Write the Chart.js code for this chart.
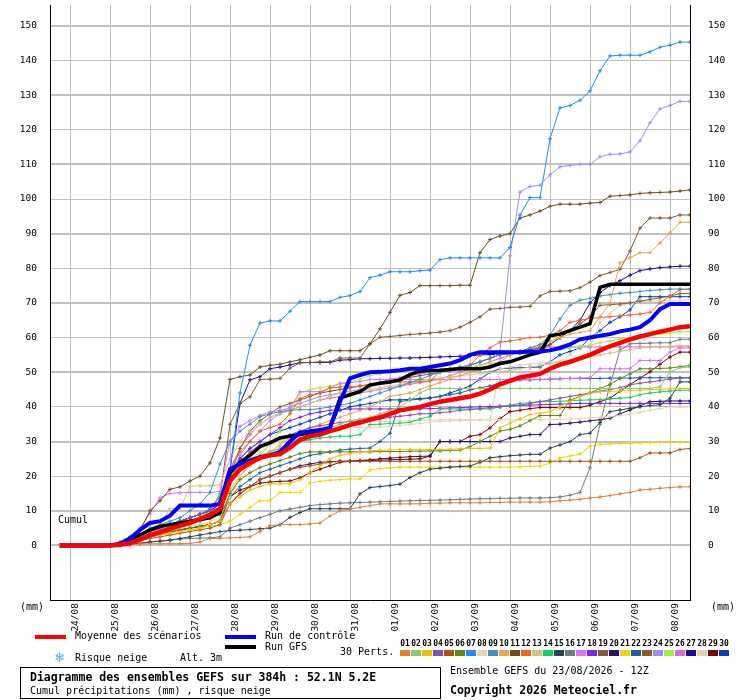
<!DOCTYPE html>
<html lang="fr">
<head>
<meta charset="UTF-8">
<title>Diagramme des ensembles GEFS</title>
<script src="https://cdn.jsdelivr.net/npm/chart.js@4.4.1/dist/chart.umd.min.js"></script>
<style>
  body { margin: 0; background: #fff; }
  .wrap { position: relative; width: 740px; height: 700px; overflow: hidden; font-family: 'DejaVu Sans Mono', monospace; }
  #gefs { position: absolute; left: 0; top: 0; }
  .t { position: absolute; font-size: 10px; line-height: 10px; color: #000; white-space: pre; }
  .b { font-weight: bold; font-size: 11.5px; line-height: 12px; }
  .sw { position: absolute; }
  .snow { color: #4fa8e0; font-family: 'DejaVu Sans', sans-serif; font-size: 13px; line-height: 13px; }
  .box { position: absolute; left: 20px; top: 667px; width: 421px; height: 32px; border: 1px solid #000; box-sizing: border-box; }
  .pn { position: absolute; top: 640px; width: 11px; text-align: center; font-size: 8px; line-height: 8px; font-weight: bold; }
  .pc { position: absolute; top: 650px; width: 10px; height: 6px; }
</style>
</head>
<body>
<div class="wrap">
  <canvas id="gefs" width="740" height="700"></canvas>

  <div class="t" style="left:20px;top:602px">(mm)</div>
  <div class="t" style="left:711px;top:602px">(mm)</div>
  <div class="t" style="left:58px;top:515px">Cumul</div>

  <div class="sw" style="left:35px;top:635px;width:31px;height:4px;background:#ff0000"></div>
  <div class="t" style="left:75px;top:631px">Moyenne des scénarios</div>
  <div class="sw" style="left:225px;top:635px;width:31px;height:4px;background:#0000ff"></div>
  <div class="t" style="left:265px;top:631px">Run de contrôle</div>
  <div class="sw" style="left:225px;top:645px;width:31px;height:4px;background:#000"></div>
  <div class="t" style="left:265px;top:642px">Run GFS</div>
  <div class="t snow" style="left:54px;top:651px">❄</div>
  <div class="t" style="left:75px;top:653px">Risque neige</div>
  <div class="t" style="left:180px;top:653px">Alt. 3m</div>
  <div class="t" style="left:340px;top:647px">30 Perts.</div>
  <div id="perts"></div>

  <div class="box"></div>
  <div class="t b" style="left:30px;top:671px">Diagramme des ensembles GEFS sur 384h : 52.1N 5.2E</div>
  <div class="t" style="left:30px;top:686px">Cumul précipitations (mm) , risque neige</div>
  <div class="t" style="left:450px;top:666px">Ensemble GEFS du 23/08/2026 - 12Z</div>
  <div class="t b" style="left:450px;top:684px">Copyright 2026 Meteociel.fr</div>
</div>

<script>
// echeances (heures depuis le 23/08 12Z), pas de cumul a l'echeance 0
const hours = [0,6,12,18,24,30,36,42,48,54,60,66,72,78,84,90,96,102,108,114,120,126,132,138,144,150,156,162,168,174,180,186,192,198,204,210,216,222,228,234,240,246,252,258,264,270,276,282,288,294,300,306,312,318,324,330,336,342,348,354,360,366,372,378,384];
const dayHours = [12,36,60,84,108,132,156,180,204,228,252,276,300,324,348,372];
const dayLabels = ['24/08','25/08','26/08','27/08','28/08','29/08','30/08','31/08','01/09','02/09','03/09','04/09','05/09','06/09','07/09','08/09'];
const yTicks = [0,10,20,30,40,50,60,70,80,90,100,110,120,130,140,150];

const pertColors = ['#e87d32','#8dc66f','#f0c000','#8a50a8','#b4500f','#5a8a0f','#1e8cff','#e8d6b0','#3f8fbf','#e8a552',
                    '#6a5020','#f26522','#d4c27e','#14d262','#27445a','#6d7b85','#e070f4','#8020f2','#7f5c30','#2e0a6a',
                    '#f2d500','#1f5f9f','#8c5a24','#a08cf0','#a2f03e','#d070d8','#1e0a9c','#e0d2b2','#800000','#0040c4'];

const mean = [null,0,0,0,0,0,
  0,0.2,0.6,1.7, 2.9,3.8,4.8,5.7, 6.5,7.7,8.8,10.5, 18.6,22,23.8,25.3,
  26,26.4,28.2,30.5, 31.5,32,33,33.8, 34.8,35.5,36.3,37, 38,39,39.5,40,
  40.8,41.5,42,42.5, 43,43.8,45,46.5, 47.5,48.5,49,49.5, 51,52.2,53,54,
  55,56.3,57.5,58.5, 59.5,60.3,61,61.7, 62.3,63,63.3];
const control = [null,0,0,0,0,0,
  0,0.5,2,4.5, 6.5,7,8.6,11.5, 11.5,11.5,11.5,12, 22,23.5,24.5,25.5,
  26,27,30,32.5, 33,33.3,34,41.5, 48.2,49.2,50,50.1, 50.3,50.6,51,51,
  51.5,52,52.5,53.5, 55,55.8,55.8,55.8, 55.8,55.8,56,56, 56.3,57,58,59.5,
  60,60.5,61,61.8, 62.3,63,65,68.2, 69.7,69.7,69.7];
const gfs = [null,0,0,0,0,0,
  0,0.3,1.5,3, 4.5,5.5,6,6.5, 7,7.5,8,9.5, 21,24,26,28.5,
  29.6,31,31.5,32, 32.5,33,34,42.5, 43.5,44.4,46.3,46.8, 47.2,47.8,49.3,50.3,
  50.5,50.6,50.8,51, 51,51,51.5,52.5, 53,54,55,55.8, 60.5,61,62,63,
  64,74.5,75.4,75.4, 75.4,75.4,75.4,75.4, 75.4,75.4,75.4];

const p01 = [null,0,0,0,0,0, 0,0,0.2,0.4, 0.5,0.5,0.5,0.5, 0.6,1,2,2, 2.2,2.3,2.5,4, 5.7,6,6,6, 6.2,6.5,8.5,10,
  10.5,11,11.5,12, 12,12,12,12, 12.2,12.2,12.3,12.3, 12.3,12.3,12.4,12.4, 12.5,12.5,12.5,12.5, 12.6,12.9,13.1,13.3,
  13.7,14,14.4,14.9, 15.3,16,16.2,16.5, 16.7,16.9,16.9];
const p02 = [null,0,0,0,0,0, 0,0.3,1,2, 3,4,5,5.5, 6,7,8,10, 20,23,25,26, 27,28,29.5,31, 32,33,34,35,
  36,36.5,37,38, 39,40,42,44, 45.3,45.3,45.3,45.3, 45.3,45.3,45.3,45.3, 45.3,45.3,45.3,45.3, 45.3,45.3,45.3,45.3,
  45.3,45.3,45.3,45.3, 45.3,45.3,45.3,45.8, 50.1,51.3,51.5];
const p03 = [null,0,0,0,0,0, 0,0,0.5,1.5, 2.5,3,3.5,4, 4.5,5,6,7, 12,14,16,17, 17.8,17.8,17.8,19, 21,23,25,26,
  26.5,27,27.3,27.5, 27.5,27.7,27.7,27.7, 27.7,27.7,27.8,27.9, 28,28,28.1,33.9, 35.3,36.5,37.8,38.2, 38.6,40,41.5,43,
  43.9,44.4,44.5,44.6, 44.7,44.8,45,45.1, 45.2,45.3,45.3];
const p04 = [null,0,0,0,0,0, 0,0.5,1.5,3, 4,5,6,7, 8,9,10,11, 20,24,27,29, 30,31,32,33, 34,34.5,35,35.5,
  35.8,36,36.2,36.5, 37,37.3,37.6,38, 38,38.3,38.6,39, 39.2,39.5,39.8,40, 40.2,40.5,41,41.5, 42,42.5,43,43.5,
  44,44.5,45,45.5, 46.4,46.8,47.2,47.6, 48,48.3,48.4];
const p05 = [null,0,0,0,0,0, 0,0.2,0.8,1.5, 2,2.5,3,3.5, 4,4.5,5,6, 12,15,17,19, 20,21,22,22.5, 23,23.5,24,24.3,
  24.3,24.3,24.3,24.3, 24.3,24.3,24.3,24.3, 24.3,24.3,24.3,24.3, 24.3,24.3,24.3,24.3, 24.3,24.3,24.3,24.3, 24.3,24.3,24.3,24.3,
  24.3,24.3,24.3,24.3, 24.3,25.3,26.7,26.7, 26.7,27.7,28];
const p06 = [null,0,0,0,0,0, 0,0.3,1,2, 3,3.5,4,4.5, 5,5.5,6,7, 15,19,21,22.5, 23.5,24.5,25.5,26.5, 27,27,27,27,
  27,27,27,27.1, 27.1,27.1,27.2,27.2, 27.3,27.3,27.4,27.5, 28.5,30,31.5,33, 33.5,34.5,36,37.5, 37.5,37.5,42,43,
  44,45.3,46.5,48.2, 49.5,51,51,51.1, 51.2,51.6,52];
const p07 = [null,0,0,0,0,0, 0,0.5,1.5,3, 4,5,6,7, 8,9,10.5,13, 22,44,57.8,64.2, 64.8,64.8,67.6,70.4, 70.4,70.4,70.4,71.6,
  72.1,73.3,77.3,78, 79,79,79,79.3, 79.5,82.5,83,83, 83,83,83,83, 86,95.4,100.4,100.4, 117.4,126.3,127,128.5,
  131.2,137,141.3,141.5, 141.5,141.5,142.5,143.8, 144.4,145.3,145.3];
const p08 = [null,0,0,0,0,0, 0,0.2,0.8,1.5, 2.5,3.5,4,5, 5.5,6,7,8, 14,20,24,27, 29,30,31,32, 32.5,33,33.5,34,
  34,34,34,34.2, 34.4,34.6,34.9,35.2, 35.5,35.8,35.9,36, 36.1,36.2,36.3,36.3, 36.3,36.3,36.3,36.3, 36.3,36.4,36.5,36.6,
  36.8,37,37.2,37.5, 38,38.5,39,39.5, 40,40,40];
const p09 = [null,0,0,0,0,0, 0,0.5,1.5,3, 5,6,7,8, 10,12,15.3,23.5, 30,33,35,37.2, 38,38.6,39,39.2, 39.2,39.5,40,40.5,
  41,42,43,44, 45,46,47,48, 49,50,51,51.5, 52,53,54,55, 55.5,56,57,58, 60.7,65.4,69.3,70.8,
  71.3,72,72.4,72.8, 73,73.3,73.6,73.8, 74,74,74];
const p10 = [null,0,0,0,0,0, 0,0.3,1,2, 3,4,5,6, 7,8,9,10, 16,20,23,25, 27,29,31,33, 34,35,36,37,
  38,39,40,41.5, 43,43.5,44,45, 46,47,48,49, 50,51,52,53, 55,56,57,58, 59,60,61,61.5,
  62,66,70,81.6, 83,84.5,84.5,87.3, 90.2,93.3,93.3];
const p11 = [null,0,0,0,0,0, 0,1,2.5,4.3, 10,12.9,16.2,16.9, 18.6,20,23.8,31, 47.9,48.7,49.2,51.5, 52,52.3,53,53.6, 54.3,55,56.2,56.2,
  56.2,56.2,58.2,62.5, 67.3,72.2,73,75, 75,75,75,75.1, 75.1,84.5,88.3,89.3, 90,94.5,95.4,96.5, 97.9,98.5,98.5,98.5,
  98.8,99,100.8,101, 101.2,101.6,101.8,101.9, 102,102.3,102.6];
const p12 = [null,0,0,0,0,0, 0,0.3,1,2, 3,4,5,6, 7,8,9,11, 22,27,30,33, 34,35,38,42.4, 43.5,44,45.5,45.7,
  45.8,46,46.5,47, 47.2,47.2,47.2,47.2, 47.5,50.1,50.5,51, 52,55,57,58.7, 59,59.5,60,60.1, 60.7,62,64.4,65,
  65.5,65.8,66,66.3, 66.5,66.8,67.3,70, 72,73.8,74];
const p13 = [null,0,0,0,0,0, 0,0.5,1.5,2.5, 3,6,10.6,10.6, 17,17.2,17.2,17.5, 25,30,33,35, 37,38,39,40, 41,42,43,44,
  44,44.5,45,45.5, 46,46.5,47,47.5, 48,48.3,48.6,49, 49.3,49.6,50,50.2, 50.5,51,51.5,52, 52.5,53,53.5,54,
  54.5,55,55.5,56, 56.5,57,57.2,57.4, 57.5,57.7,57.7];
const p14 = [null,0,0,0,0,0, 0,0.2,0.8,1.5, 2.5,3,4,5, 6,8,10,15, 20,22,24,26, 27,28,29,30, 30.5,31,31.3,31.5,
  31.5,32,34.9,35, 35.2,35.3,35.5,36.5, 37.2,39.4,39.4,39.4, 39.4,39.4,39.4,40, 40.5,41,41.2,41.5, 41.5,41.6,41.8,41.9,
  42,42.1,42.3,42.5, 42.7,43.5,44,44.3, 44.6,44.8,44.8];
const p15 = [null,0,0,0,0,0, 0,0,0.3,0.6, 1,1.2,1.5,2, 2.5,3,3.5,4, 4.3,4.4,4.6,4.8, 5,6,8.1,9.5, 10.6,10.6,10.6,10.6,
  10.6,14.9,16.7,17, 17.3,17.7,19.6,21, 22,22.3,22.6,22.8, 22.9,24,25.3,25.6, 25.9,26.1,26.3,26.3, 28.1,29,30,32,
  32.4,35.5,38.6,39.1, 39.6,40,40.4,40.6, 42.5,47.2,47.2];
const p16 = [null,0,0,0,0,0, 0,0,0.3,0.6, 1,1.3,1.6,1.8, 2,2.1,2.2,2.5, 5,6,7,8, 9,10,10.5,11, 11.5,11.8,12,12.2,
  12.3,12.4,12.5,12.6, 12.7,12.8,12.9,13, 13,13.1,13.2,13.3, 13.4,13.5,13.5,13.6, 13.6,13.7,13.7,13.7, 13.8,14,14.5,15.3,
  22.4,35,46.4,56.4, 58.2,58.3,58.4,58.5, 58.5,59.5,59.5];
const p17 = [null,0,0,0,0,0, 0,0.5,2,5, 9.2,13.8,15,15.2, 15.3,15.3,15.3,15.6, 30,34.4,36,37.5, 38.6,39,39.6,44.4, 44.4,44.4,45.5,46.8,
  47,47.3,47.9,47.9, 47.9,47.9,47.9,47.9, 47.9,47.9,47.9,47.9, 47.9,47.9,47.9,47.9, 47.9,47.9,47.9,47.9, 48,48.1,48.2,48.3,
  48.4,51,51,51, 51,53.4,53.4,53.4, 55.8,57,57];
const p18 = [null,0,0,0,0,0, 0,0.3,1,2, 3,4,5,6, 6.5,7,8,9, 20,25,28,30, 32,34,36,37, 38,38.5,39,39.2,
  39.4,39.4,39.4,39.4, 39.4,39.4,39.4,39.4, 39.5,39.6,39.7,39.8, 39.9,40,40.1,40.2, 40.3,40.4,40.5,40.6, 40.7,40.8,40.9,41,
  41,41,41,41, 41,41,41,41, 41,41,41];
const p19 = [null,0,0,0,0,0, 0,0.5,1.5,3, 4,5,6,7, 8,9,10.5,14, 35,41,42.9,47.9, 48,48.2,51.2,52.7, 52.8,53,53,54.1,
  54.1,54.1,58.2,60.1, 60.3,60.6,60.9,61.1, 61.3,61.6,62,63, 64.4,66,68.2,68.4, 68.7,68.8,69,72, 73.3,73.4,73.5,74.4,
  76,77.9,78.8,79.7, 85,91.6,94.5,94.5, 94.5,95.4,95.4];
const p20 = [null,0,0,0,0,0, 0,0.3,1,2, 3,3.5,4,4.5, 5,5.5,6,7, 12,15,17,19, 20,21,22,23, 23.5,24,24.2,24.3,
  24.3,24.4,24.5,24.6, 24.7,24.8,24.9,25, 25.8,30,30,30, 30,30,30,30, 31,31.5,32,32, 34.9,35,35.3,35.6,
  36,36.3,36.7,38, 39.1,40.3,41.5,41.6, 41.7,41.7,41.7];
const p21 = [null,0,0,0,0,0, 0,0.2,0.8,1.5, 2.5,3,3.5,4, 4.5,5,5.5,6, 7,9,11,12.9, 12.9,15.3,15.3,15.3, 18.1,18.5,18.8,19,
  19.2,19.2,21.8,22.2, 22.4,22.6,22.6,22.6, 22.6,22.6,22.6,22.6, 22.6,22.6,22.6,22.6, 22.6,22.7,22.8,22.9, 23.8,25.3,25.8,26.4,
  28.6,29.2,29.3,29.4, 29.5,29.6,29.7,29.7, 29.8,29.8,29.8];
const p22 = [null,0,0,0,0,0, 0,0.3,1,2, 3,4,5,6, 6.5,7,8,9, 14,17,19,21, 22,23,24,25, 26,26.5,27,27.5,
  27.8,28,28.1,30, 32.4,41.5,42,42.2, 42.5,43,43.5,44, 44.9,45.5,46,47, 47.8,47.8,47.8,47.9, 48,48.1,48.2,48.2,
  48.2,48.2,48.3,48.3, 48.3,48.4,48.4,48.4, 48.4,48.4,48.4];
const p23 = [null,0,0,0,0,0, 0,0.5,1.5,2.5, 3.5,4.5,5.5,6.5, 7,8,9,10, 20,28,33,36, 38,40,41,42, 43,44,44.5,45,
  45.5,46,46.5,47, 47.5,48,48.5,49, 49.5,50,50.5,51, 52,53,54,55, 55.5,56,56.5,57, 58,60,62,64,
  66,69.3,69.5,69.7, 70,70.5,71,71.5, 72,72.7,72.7];
const p24 = [null,0,0,0,0,0, 0,0.3,1,2, 3,4,5,6, 7,8,9,11, 20,26,30,33, 36,38,40,41, 42,43,43.5,44,
  44.5,45,46,47, 48,48.5,49,49.5, 50,50.5,51,51.5, 52,53,54,56, 83.6,102,103.6,104, 107,109.3,109.7,110,
  110,112.2,112.9,113, 113.6,116.8,122,126, 127,128.2,128.2];
const p25 = [null,0,0,0,0,0, 0,0.3,1,2, 3,4,5,6, 6.5,7,8,9, 15,20,24,26, 29.2,33,38.6,43.9, 45,45.5,46,46.5,
  47,48,49,49.5, 50.1,50.2,50.3,50.4, 50.5,50.7,51,51.2, 51.5,52,52.5,53, 53.5,54,55,55.8, 56,56.5,57,57.5,
  57.8,58.5,59,59.6, 60,60.3,60.7,61, 61.3,61.7,61.7];
const p26 = [null,0,0,0,0,0, 0,0.3,1,2, 3,4,5,6, 7,8,9,11, 22,28,32,35, 37,38,39,40, 41,42,42.5,43,
  43.5,44,44.5,45, 45.5,46,46.5,47, 47.5,48,49,50, 51,52,53,54, 55,56,56.8,57.3, 57.3,57.3,57.3,57.3,
  57.3,57.3,57.3,57.3, 57.3,57.3,57.3,57.3, 57.3,57.3,57.3];
const p27 = [null,0,0,0,0,0, 0,0.5,1.5,3, 4,5,6,7, 8,9,10,12, 22,41,47.8,48.7, 51,51.5,52.1,52.8, 52.8,52.8,52.8,53.5,
  53.6,53.9,53.9,54, 54,54.1,54.1,54.2, 54.3,54.4,54.5,54.6, 54.8,55,55.1,55.2, 55.3,55.5,55.8,56, 58,60,62,65,
  70,73,75,76.4, 78,79.3,79.8,80.2, 80.4,80.6,80.6];
const p28 = [null,0,0,0,0,0, 0,0.3,1,2, 3,4,5,6, 7,8,9,10, 18,22,25,27, 29,30,31,32, 33,33.5,34,34.5,
  35,35.3,35.6,35.8, 35.8,36,36,36.1, 36.2,36.2,36.3,36.3, 36.3,36.3,36.3,51, 51.5,52,52.3,52.6, 53,53,55,57.3,
  57.3,64.4,67,69.3, 69.8,70.4,70.5,70.6, 70.7,70.7,71];
const p29 = [null,0,0,0,0,0, 0,0.3,1,2, 3,3.5,4,4.5, 5,5.5,6,7, 14,16,17,18, 18.3,18.5,18.6,19.5, 21,22,23,24,
  24.3,24.5,24.7,25, 25.2,25.4,25.6,25.7, 25.8,30,30,30, 31.5,32,33.9,36.6, 38.6,39,39.5,39.8, 39.8,39.8,39.8,39.8,
  40.5,41.5,42.5,44.5, 46.4,48.3,50.1,52.3, 54.4,55.8,55.8];
const p30 = [null,0,0,0,0,0, 0,0.5,1.5,3, 4,5,6,7, 8,9,10,12, 20,25,28,30, 32,33,34,35, 36,37,38,39,
  40,40.5,41,41.5, 42,42,42.2,42.4, 42.6,43,44,45, 46,48,50,51, 51.2,51.3,51.4,51.5, 53,55,56,57,
  60,62,64.4,66, 68,71.8,71.8,71.8, 71.8,71.8,71.8];

const perts = [p01,p02,p03,p04,p05,p06,p07,p08,p09,p10,p11,p12,p13,p14,p15,
               p16,p17,p18,p19,p20,p21,p22,p23,p24,p25,p26,p27,p28,p29,p30];

// legende des perturbations
const pertBox = document.getElementById('perts');
pertColors.forEach(function (c, k) {
    const n = document.createElement('div');
    n.className = 't pn';
    n.style.left = (399.5 + 11 * k) + 'px';
    n.textContent = String(k + 1).padStart(2, '0');
    pertBox.appendChild(n);
    const s = document.createElement('div');
    s.className = 'pc';
    s.style.left = (400 + 11 * k) + 'px';
    s.style.background = c;
    pertBox.appendChild(s);
});

// dessin
const datasets = [
    { label: 'Moyenne des scénarios', data: mean, borderColor: '#ff0000', borderWidth: 4.5, pointRadius: 0 },
    { label: 'Run de contrôle', data: control, borderColor: '#0000ff', borderWidth: 4, pointRadius: 0 },
    { label: 'Run GFS', data: gfs, borderColor: '#000000', borderWidth: 3.5, pointRadius: 0 }
];
perts.forEach(function (p, k) {
    datasets.push({
        label: String(k + 1).padStart(2, '0'),
        data: p,
        borderColor: pertColors[k],
        borderWidth: 1,
        pointStyle: 'cross',
        pointRadius: 2,
        pointBorderWidth: 1,
        pointBorderColor: pertColors[k],
        pointBackgroundColor: pertColors[k]
    });
});

const tickFont = { family: 'DejaVu Sans Mono', size: 9.5 };
const setYTicks = function (s) { s.ticks = yTicks.map(v => ({ value: v })); };

new Chart(document.getElementById('gefs'), {
    type: 'line',
    data: { labels: hours, datasets: datasets },
    options: {
        responsive: false,
        animation: false,
        layout: { padding: 0 },
        elements: { line: { tension: 0 } },
        plugins: { legend: { display: false }, tooltip: { enabled: false } },
        scales: {
            x: {
                type: 'linear', min: 0, max: 384,
                afterBuildTicks: function (s) { s.ticks = dayHours.map(v => ({ value: v })); },
                ticks: {
                    autoSkip: false, maxRotation: 90, minRotation: 90, padding: 3, labelOffset: 6,
                    font: tickFont, color: '#000',
                    callback: function (v, i) { return dayLabels[i]; }
                },
                grid: { color: '#c0c0c0', lineWidth: 1, drawTicks: false },
                border: { color: '#000', width: 1 },
                afterFit: function (s) { s.height = 100; s.paddingLeft = 0; s.paddingRight = 0; }
            },
            y: {
                position: 'left', min: -15.75, max: 156,
                afterBuildTicks: setYTicks,
                ticks: { padding: 13, font: tickFont, color: '#000' },
                grid: {
                    color: '#c0c0c0', drawTicks: false,
                    lineWidth: function (ctx) {
                        const v = ctx.tick ? ctx.tick.value : 1;
                        return v % 20 === 10 || v === 0 ? 2 : 1;
                    }
                },
                border: { color: '#000', width: 1 },
                afterFit: function (s) { s.width = 50; s.paddingTop = 0; s.paddingBottom = 0; }
            },
            y2: {
                position: 'right', min: -15.75, max: 156,
                afterBuildTicks: setYTicks,
                ticks: { padding: 18, font: tickFont, color: '#000' },
                grid: { drawOnChartArea: false, drawTicks: false },
                border: { color: '#000', width: 1 },
                afterFit: function (s) { s.width = 50; s.paddingTop = 0; s.paddingBottom = 0; }
            }
        }
    }
});
</script>
</body>
</html>
